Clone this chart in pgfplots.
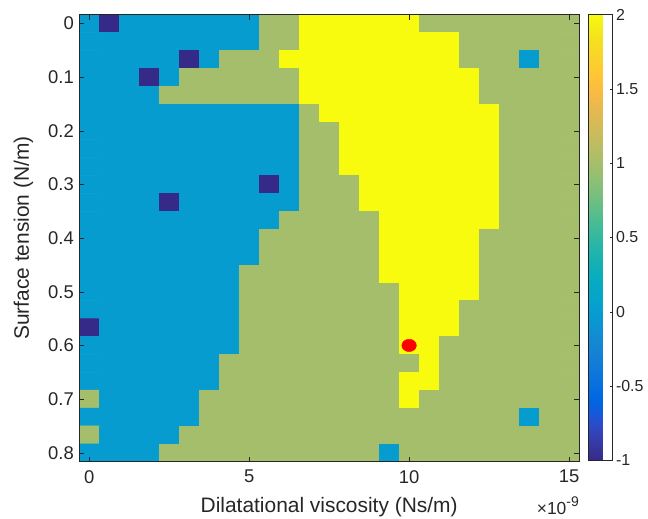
\documentclass[border=0pt]{standalone}
\usepackage{pgfplots}
\pgfplotsset{compat=1.18}
\usepackage{fontspec}
\setmainfont{Liberation Sans}
\definecolor{txt}{rgb}{0.15,0.15,0.15}
\definecolor{axc}{rgb}{0.15,0.15,0.15}
\pgfplotsset{colormap={parula}{
rgb=(0.2081,0.1663,0.5292) rgb=(0.2116,0.1898,0.5777) rgb=(0.2123,0.2138,0.6270) rgb=(0.2081,0.2386,0.6771)
rgb=(0.1959,0.2645,0.7279) rgb=(0.1707,0.2919,0.7792) rgb=(0.1253,0.3242,0.8303) rgb=(0.0591,0.3598,0.8683)
rgb=(0.0117,0.3875,0.8820) rgb=(0.0060,0.4086,0.8828) rgb=(0.0165,0.4266,0.8786) rgb=(0.0329,0.4430,0.8720)
rgb=(0.0498,0.4586,0.8641) rgb=(0.0629,0.4737,0.8554) rgb=(0.0723,0.4887,0.8467) rgb=(0.0779,0.5040,0.8384)
rgb=(0.0793,0.5200,0.8312) rgb=(0.0749,0.5375,0.8263) rgb=(0.0641,0.5570,0.8240) rgb=(0.0488,0.5772,0.8228)
rgb=(0.0343,0.5966,0.8199) rgb=(0.0265,0.6137,0.8135) rgb=(0.0239,0.6287,0.8038) rgb=(0.0231,0.6418,0.7913)
rgb=(0.0228,0.6535,0.7768) rgb=(0.0267,0.6642,0.7607) rgb=(0.0384,0.6743,0.7436) rgb=(0.0590,0.6838,0.7254)
rgb=(0.0843,0.6928,0.7062) rgb=(0.1133,0.7015,0.6859) rgb=(0.1453,0.7098,0.6646) rgb=(0.1801,0.7177,0.6424)
rgb=(0.2178,0.7250,0.6193) rgb=(0.2586,0.7317,0.5954) rgb=(0.3022,0.7376,0.5712) rgb=(0.3482,0.7424,0.5473)
rgb=(0.3953,0.7459,0.5244) rgb=(0.4420,0.7481,0.5033) rgb=(0.4871,0.7491,0.4840) rgb=(0.5300,0.7491,0.4661)
rgb=(0.5709,0.7485,0.4494) rgb=(0.6099,0.7473,0.4337) rgb=(0.6473,0.7456,0.4188) rgb=(0.6834,0.7435,0.4044)
rgb=(0.7184,0.7411,0.3905) rgb=(0.7525,0.7384,0.3768) rgb=(0.7858,0.7356,0.3633) rgb=(0.8185,0.7327,0.3498)
rgb=(0.8507,0.7299,0.3360) rgb=(0.8824,0.7274,0.3217) rgb=(0.9139,0.7258,0.3063) rgb=(0.9450,0.7261,0.2886)
rgb=(0.9739,0.7314,0.2666) rgb=(0.9938,0.7455,0.2403) rgb=(0.9990,0.7653,0.2164) rgb=(0.9955,0.7861,0.1967)
rgb=(0.9880,0.8066,0.1794) rgb=(0.9789,0.8271,0.1633) rgb=(0.9697,0.8481,0.1475) rgb=(0.9626,0.8705,0.1309)
rgb=(0.9589,0.8949,0.1132) rgb=(0.9598,0.9218,0.0948) rgb=(0.9661,0.9514,0.0755) rgb=(0.9763,0.9831,0.0538)
}}
\begin{document}
\begin{tikzpicture}
\useasboundingbox (0,0) rectangle (648bp,519bp);
\begin{axis}[
  name=main,
  at={(79.3bp,57.3bp)}, anchor=south west,
  scale only axis, width=499.7bp, height=447.2bp,
  xmin=-0.5, xmax=24.5, ymin=-0.5, ymax=24.5, y dir=reverse,
  enlargelimits=false, axis on top,
  colormap name=parula, point meta min=-1, point meta max=2,
  xtick={0,8,16,24}, xticklabels={0,5,10,15},
  ytick={0,3,6,9,12,15,18,21,24}, yticklabels={0,0.1,0.2,0.3,0.4,0.5,0.6,0.7,0.8},
  tick align=inside, xtick pos=both, ytick pos=both,
  xticklabel pos=lower, yticklabel pos=left,
  major tick length=5bp,
  tick style={color=axc, line width=0.5bp},
  axis line style={color=axc, line width=0.6bp},
  ticklabel style={font=\fontsize{18.5}{20}\selectfont, text=txt},
  xticklabel style={yshift=-5bp},
  yticklabel style={xshift=-2bp},
  xlabel={Dilatational viscosity (Ns/m)},
  ylabel={Surface tension (N/m)},
  label style={font=\fontsize{21}{23}\selectfont, text=txt},
  xlabel style={at={(axis description cs:0.5,-0.1125)}, anchor=base},
  ylabel style={at={(axis description cs:-0.1009,0.5)}, anchor=base},
  colorbar,
  colorbar style={
    at={(parent axis.north east)}, anchor=north west, xshift=1bp,
    scale only axis, width=24bp, height=446bp,
    ytick={-1,-0.5,0,0.5,1,1.5,2}, yticklabels={-1,-0.5,0,0.5,1,1.5,2},
    yticklabel pos=right, ytick pos=right, tick align=inside,
    major tick length=3bp,
    tick style={color=axc, line width=0.5bp},
    axis line style={color=axc, line width=0.6bp},
    yticklabel style={font=\fontsize{16}{18}\selectfont, text=txt},
  },
]
\addplot[matrix plot*, draw=mapped color, line width=0.5bp, mesh/cols=25, point meta=explicit] table[x=x, y=y, meta=c, row sep=\\] {
x y c\\
0 0 0\\1 0 -1\\2 0 0\\3 0 0\\4 0 0\\5 0 0\\6 0 0\\7 0 0\\8 0 0\\9 0 1\\10 0 1\\11 0 2\\12 0 2\\13 0 2\\14 0 2\\15 0 2\\16 0 2\\17 0 1\\18 0 1\\19 0 1\\20 0 1\\21 0 1\\22 0 1\\23 0 1\\24 0 1\\
0 1 0\\1 1 0\\2 1 0\\3 1 0\\4 1 0\\5 1 0\\6 1 0\\7 1 0\\8 1 0\\9 1 1\\10 1 1\\11 1 2\\12 1 2\\13 1 2\\14 1 2\\15 1 2\\16 1 2\\17 1 2\\18 1 2\\19 1 1\\20 1 1\\21 1 1\\22 1 1\\23 1 1\\24 1 1\\
0 2 0\\1 2 0\\2 2 0\\3 2 0\\4 2 0\\5 2 -1\\6 2 0\\7 2 1\\8 2 1\\9 2 1\\10 2 2\\11 2 2\\12 2 2\\13 2 2\\14 2 2\\15 2 2\\16 2 2\\17 2 2\\18 2 2\\19 2 1\\20 2 1\\21 2 1\\22 2 0\\23 2 1\\24 2 1\\
0 3 0\\1 3 0\\2 3 0\\3 3 -1\\4 3 0\\5 3 1\\6 3 1\\7 3 1\\8 3 1\\9 3 1\\10 3 1\\11 3 2\\12 3 2\\13 3 2\\14 3 2\\15 3 2\\16 3 2\\17 3 2\\18 3 2\\19 3 2\\20 3 1\\21 3 1\\22 3 1\\23 3 1\\24 3 1\\
0 4 0\\1 4 0\\2 4 0\\3 4 0\\4 4 1\\5 4 1\\6 4 1\\7 4 1\\8 4 1\\9 4 1\\10 4 1\\11 4 2\\12 4 2\\13 4 2\\14 4 2\\15 4 2\\16 4 2\\17 4 2\\18 4 2\\19 4 2\\20 4 1\\21 4 1\\22 4 1\\23 4 1\\24 4 1\\
0 5 0\\1 5 0\\2 5 0\\3 5 0\\4 5 0\\5 5 0\\6 5 0\\7 5 0\\8 5 0\\9 5 0\\10 5 0\\11 5 1\\12 5 2\\13 5 2\\14 5 2\\15 5 2\\16 5 2\\17 5 2\\18 5 2\\19 5 2\\20 5 2\\21 5 1\\22 5 1\\23 5 1\\24 5 1\\
0 6 0\\1 6 0\\2 6 0\\3 6 0\\4 6 0\\5 6 0\\6 6 0\\7 6 0\\8 6 0\\9 6 0\\10 6 0\\11 6 1\\12 6 1\\13 6 2\\14 6 2\\15 6 2\\16 6 2\\17 6 2\\18 6 2\\19 6 2\\20 6 2\\21 6 1\\22 6 1\\23 6 1\\24 6 1\\
0 7 0\\1 7 0\\2 7 0\\3 7 0\\4 7 0\\5 7 0\\6 7 0\\7 7 0\\8 7 0\\9 7 0\\10 7 0\\11 7 1\\12 7 1\\13 7 2\\14 7 2\\15 7 2\\16 7 2\\17 7 2\\18 7 2\\19 7 2\\20 7 2\\21 7 1\\22 7 1\\23 7 1\\24 7 1\\
0 8 0\\1 8 0\\2 8 0\\3 8 0\\4 8 0\\5 8 0\\6 8 0\\7 8 0\\8 8 0\\9 8 0\\10 8 0\\11 8 1\\12 8 1\\13 8 2\\14 8 2\\15 8 2\\16 8 2\\17 8 2\\18 8 2\\19 8 2\\20 8 2\\21 8 1\\22 8 1\\23 8 1\\24 8 1\\
0 9 0\\1 9 0\\2 9 0\\3 9 0\\4 9 0\\5 9 0\\6 9 0\\7 9 0\\8 9 0\\9 9 -1\\10 9 0\\11 9 1\\12 9 1\\13 9 1\\14 9 2\\15 9 2\\16 9 2\\17 9 2\\18 9 2\\19 9 2\\20 9 2\\21 9 1\\22 9 1\\23 9 1\\24 9 1\\
0 10 0\\1 10 0\\2 10 0\\3 10 0\\4 10 -1\\5 10 0\\6 10 0\\7 10 0\\8 10 0\\9 10 0\\10 10 0\\11 10 1\\12 10 1\\13 10 1\\14 10 2\\15 10 2\\16 10 2\\17 10 2\\18 10 2\\19 10 2\\20 10 2\\21 10 1\\22 10 1\\23 10 1\\24 10 1\\
0 11 0\\1 11 0\\2 11 0\\3 11 0\\4 11 0\\5 11 0\\6 11 0\\7 11 0\\8 11 0\\9 11 0\\10 11 1\\11 11 1\\12 11 1\\13 11 1\\14 11 1\\15 11 2\\16 11 2\\17 11 2\\18 11 2\\19 11 2\\20 11 2\\21 11 1\\22 11 1\\23 11 1\\24 11 1\\
0 12 0\\1 12 0\\2 12 0\\3 12 0\\4 12 0\\5 12 0\\6 12 0\\7 12 0\\8 12 0\\9 12 1\\10 12 1\\11 12 1\\12 12 1\\13 12 1\\14 12 1\\15 12 2\\16 12 2\\17 12 2\\18 12 2\\19 12 2\\20 12 1\\21 12 1\\22 12 1\\23 12 1\\24 12 1\\
0 13 0\\1 13 0\\2 13 0\\3 13 0\\4 13 0\\5 13 0\\6 13 0\\7 13 0\\8 13 0\\9 13 1\\10 13 1\\11 13 1\\12 13 1\\13 13 1\\14 13 1\\15 13 2\\16 13 2\\17 13 2\\18 13 2\\19 13 2\\20 13 1\\21 13 1\\22 13 1\\23 13 1\\24 13 1\\
0 14 0\\1 14 0\\2 14 0\\3 14 0\\4 14 0\\5 14 0\\6 14 0\\7 14 0\\8 14 1\\9 14 1\\10 14 1\\11 14 1\\12 14 1\\13 14 1\\14 14 1\\15 14 2\\16 14 2\\17 14 2\\18 14 2\\19 14 2\\20 14 1\\21 14 1\\22 14 1\\23 14 1\\24 14 1\\
0 15 0\\1 15 0\\2 15 0\\3 15 0\\4 15 0\\5 15 0\\6 15 0\\7 15 0\\8 15 1\\9 15 1\\10 15 1\\11 15 1\\12 15 1\\13 15 1\\14 15 1\\15 15 1\\16 15 2\\17 15 2\\18 15 2\\19 15 2\\20 15 1\\21 15 1\\22 15 1\\23 15 1\\24 15 1\\
0 16 0\\1 16 0\\2 16 0\\3 16 0\\4 16 0\\5 16 0\\6 16 0\\7 16 0\\8 16 1\\9 16 1\\10 16 1\\11 16 1\\12 16 1\\13 16 1\\14 16 1\\15 16 1\\16 16 2\\17 16 2\\18 16 2\\19 16 1\\20 16 1\\21 16 1\\22 16 1\\23 16 1\\24 16 1\\
0 17 -1\\1 17 0\\2 17 0\\3 17 0\\4 17 0\\5 17 0\\6 17 0\\7 17 0\\8 17 1\\9 17 1\\10 17 1\\11 17 1\\12 17 1\\13 17 1\\14 17 1\\15 17 1\\16 17 2\\17 17 2\\18 17 2\\19 17 1\\20 17 1\\21 17 1\\22 17 1\\23 17 1\\24 17 1\\
0 18 0\\1 18 0\\2 18 0\\3 18 0\\4 18 0\\5 18 0\\6 18 0\\7 18 0\\8 18 1\\9 18 1\\10 18 1\\11 18 1\\12 18 1\\13 18 1\\14 18 1\\15 18 1\\16 18 2\\17 18 2\\18 18 1\\19 18 1\\20 18 1\\21 18 1\\22 18 1\\23 18 1\\24 18 1\\
0 19 0\\1 19 0\\2 19 0\\3 19 0\\4 19 0\\5 19 0\\6 19 0\\7 19 1\\8 19 1\\9 19 1\\10 19 1\\11 19 1\\12 19 1\\13 19 1\\14 19 1\\15 19 1\\16 19 1\\17 19 2\\18 19 1\\19 19 1\\20 19 1\\21 19 1\\22 19 1\\23 19 1\\24 19 1\\
0 20 0\\1 20 0\\2 20 0\\3 20 0\\4 20 0\\5 20 0\\6 20 0\\7 20 1\\8 20 1\\9 20 1\\10 20 1\\11 20 1\\12 20 1\\13 20 1\\14 20 1\\15 20 1\\16 20 2\\17 20 2\\18 20 1\\19 20 1\\20 20 1\\21 20 1\\22 20 1\\23 20 1\\24 20 1\\
0 21 1\\1 21 0\\2 21 0\\3 21 0\\4 21 0\\5 21 0\\6 21 1\\7 21 1\\8 21 1\\9 21 1\\10 21 1\\11 21 1\\12 21 1\\13 21 1\\14 21 1\\15 21 1\\16 21 2\\17 21 1\\18 21 1\\19 21 1\\20 21 1\\21 21 1\\22 21 1\\23 21 1\\24 21 1\\
0 22 0\\1 22 0\\2 22 0\\3 22 0\\4 22 0\\5 22 0\\6 22 1\\7 22 1\\8 22 1\\9 22 1\\10 22 1\\11 22 1\\12 22 1\\13 22 1\\14 22 1\\15 22 1\\16 22 1\\17 22 1\\18 22 1\\19 22 1\\20 22 1\\21 22 1\\22 22 0\\23 22 1\\24 22 1\\
0 23 1\\1 23 0\\2 23 0\\3 23 0\\4 23 0\\5 23 1\\6 23 1\\7 23 1\\8 23 1\\9 23 1\\10 23 1\\11 23 1\\12 23 1\\13 23 1\\14 23 1\\15 23 1\\16 23 1\\17 23 1\\18 23 1\\19 23 1\\20 23 1\\21 23 1\\22 23 1\\23 23 1\\24 23 1\\
0 24 0\\1 24 0\\2 24 0\\3 24 0\\4 24 1\\5 24 1\\6 24 1\\7 24 1\\8 24 1\\9 24 1\\10 24 1\\11 24 1\\12 24 1\\13 24 1\\14 24 1\\15 24 0\\16 24 1\\17 24 1\\18 24 1\\19 24 1\\20 24 1\\21 24 1\\22 24 1\\23 24 1\\24 24 1\\
};
\addplot[only marks, mark=*, mark size=6.2pt, mark options={fill=red, draw=red, xscale=1.18}] coordinates {(16,18)};
\end{axis}
\node[anchor=base east, inner sep=0, text=txt, font=\fontsize{17.5}{19}\selectfont] at ([yshift=-52.3bp]main.south east) {×10\raisebox{7.5bp}{\fontsize{14}{14}\selectfont -9}};
\end{tikzpicture}
\end{document}
